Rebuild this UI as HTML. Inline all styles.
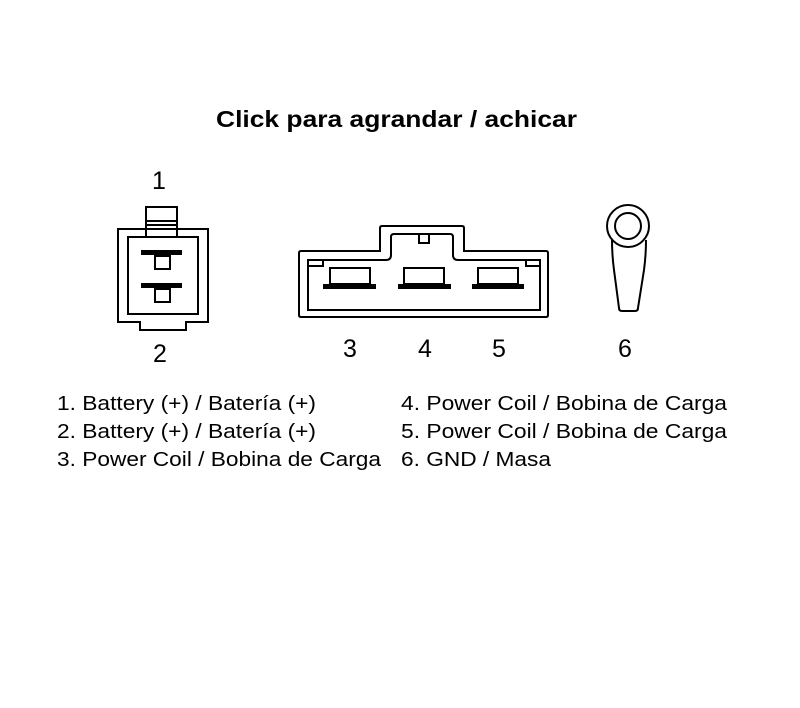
<!DOCTYPE html>
<html><head><meta charset="utf-8"><style>html,body{margin:0;padding:0;background:#fff}</style></head>
<body>
<svg width="800" height="703" viewBox="0 0 800 703" xmlns="http://www.w3.org/2000/svg" font-family="Liberation Sans, sans-serif">
<rect width="800" height="703" fill="#fff"/>
<text x="216" y="127" font-size="23" font-weight="bold" textLength="361" lengthAdjust="spacingAndGlyphs">Click para agrandar / achicar</text>
<g fill="none" stroke="#000" stroke-width="2">
<!-- connector 1/2 -->
<path d="M118 229 H208 V322 H186 V330 H140 V322 H118 Z"/>
<rect x="128" y="237" width="70" height="77"/>
<path d="M146 237 V207 H177 V237"/>
<line x1="146" y1="221" x2="177" y2="221"/>
<line x1="146" y1="225" x2="177" y2="225"/>
<rect x="155" y="256" width="15" height="13"/>
<rect x="155" y="289" width="15" height="13"/>
<!-- connector 3/4/5 -->
<path d="M301 251 H380 V228 Q380 226 382 226 H462 Q464 226 464 228 V251 H546 Q548 251 548 253 V315 Q548 317 546 317 H301 Q299 317 299 315 V253 Q299 251 301 251 Z"/>
<path d="M308 310 V260 H386 Q391 260 391 255 V237 Q391 234 394 234 H450 Q453 234 453 237 V255 Q453 260 458 260 H540 V310 Z"/>
<rect x="419" y="234" width="10" height="9"/>
<path d="M308 266 H323 V260 M540 266 H526 V260"/>
<rect x="330" y="268" width="40" height="16"/>
<rect x="404" y="268" width="40" height="16"/>
<rect x="478" y="268" width="40" height="16"/>
<!-- ring terminal -->
<circle cx="628" cy="226" r="21"/>
<circle cx="628" cy="226" r="13"/>
<path d="M612 240 Q612 255 614 270 L619 308 Q619 311 622 311 H635 Q638 311 638 308 L644 270 Q646 255 646 240"/>
</g>
<g fill="#000">
<rect x="141" y="250" width="41" height="5"/>
<rect x="141" y="283" width="41" height="5"/>
<rect x="323" y="284" width="53" height="5"/>
<rect x="398" y="284" width="53" height="5"/>
<rect x="472" y="284" width="52" height="5"/>
</g>
<g font-size="25" fill="#000">
<text x="152" y="189">1</text>
<text x="153" y="362">2</text>
<text x="343" y="357">3</text>
<text x="418" y="357">4</text>
<text x="492" y="357">5</text>
<text x="618" y="357">6</text>
</g>
<g font-size="20" fill="#000">
<text x="57" y="410" textLength="259" lengthAdjust="spacingAndGlyphs">1. Battery (+) / Batería (+)</text>
<text x="57" y="438" textLength="259" lengthAdjust="spacingAndGlyphs">2. Battery (+) / Batería (+)</text>
<text x="57" y="466" textLength="324" lengthAdjust="spacingAndGlyphs">3. Power Coil / Bobina de Carga</text>
<text x="401" y="410" textLength="326" lengthAdjust="spacingAndGlyphs">4. Power Coil / Bobina de Carga</text>
<text x="401" y="438" textLength="326" lengthAdjust="spacingAndGlyphs">5. Power Coil / Bobina de Carga</text>
<text x="401" y="466" textLength="150" lengthAdjust="spacingAndGlyphs">6. GND / Masa</text>
</g>
</svg>
</body></html>
